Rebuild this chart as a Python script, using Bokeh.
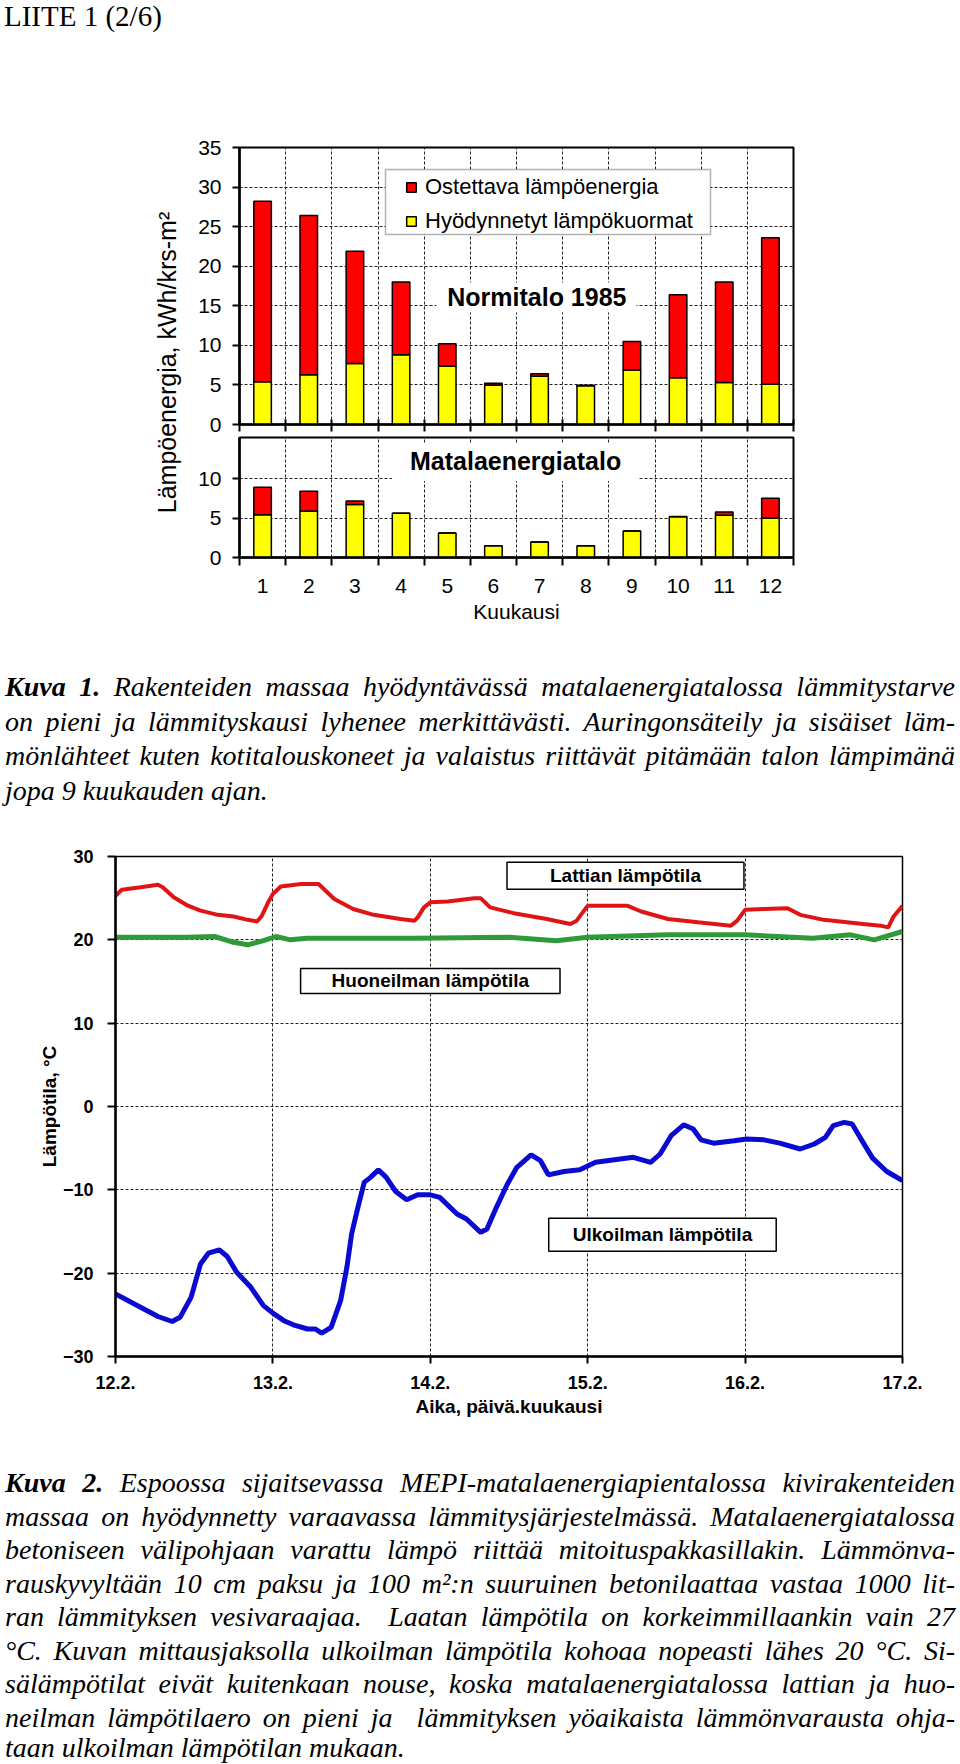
from bokeh.plotting import figure
from bokeh.models import (Range1d, FixedTicker, Label, Legend, LegendItem,
                          BoxAnnotation, Div, ColumnDataSource)
from bokeh.layouts import column, row
from bokeh.embed import file_html
from bokeh.resources import INLINE

# ---------------- data ----------------
months = [1, 2, 3, 4, 5, 6, 7, 8, 9, 10, 11, 12]
# Normitalo 1985
normi_used = [5.4, 6.3, 7.7, 8.8, 7.4, 5.0, 6.1, 4.9, 6.9, 5.9, 5.3, 5.1]
normi_bought = [22.8, 20.1, 14.2, 9.2, 2.8, 0.2, 0.3, 0.05, 3.6, 10.5, 12.7, 18.5]
# Matalaenergiatalo
low_used = [5.4, 5.9, 6.7, 5.6, 3.1, 1.5, 1.95, 1.5, 3.35, 5.15, 5.35, 5.0]
low_bought = [3.5, 2.5, 0.45, 0.0, 0.0, 0.0, 0.0, 0.0, 0.0, 0.05, 0.4, 2.5]
top_ticks = [0, 5, 10, 15, 20, 25, 30, 35]
low_ticks = [0, 5, 10]

# temperatures, time in days from 12.2.
day_ticks = [0, 1, 2, 3, 4, 5]
day_labels = ["12.2.", "13.2.", "14.2.", "15.2.", "16.2.", "17.2."]
temp_ticks = [-30, -20, -10, 0, 10, 20, 30]

floor_t = [0, 0.04, 0.16, 0.27, 0.30, 0.37, 0.46, 0.54, 0.65, 0.75, 0.84, 0.90, 0.93,
           0.97, 1.0, 1.05, 1.18, 1.29, 1.39, 1.51, 1.64, 1.81, 1.90, 1.92, 1.96, 2.0,
           2.11, 2.28, 2.32, 2.38, 2.53, 2.74, 2.89, 2.93, 3.0, 3.08, 3.25, 3.34, 3.51,
           3.70, 3.91, 3.95, 4.0, 4.12, 4.27, 4.35, 4.50, 4.75, 4.86, 4.91, 4.94, 5.0]
floor_v = [25.3, 26.0, 26.3, 26.6, 26.3, 25.1, 24.1, 23.5, 23.0, 22.8, 22.4, 22.2, 22.9,
           24.5, 25.5, 26.4, 26.7, 26.7, 24.9, 23.7, 23.0, 22.5, 22.3, 22.7, 23.9, 24.5,
           24.6, 25.0, 25.0, 23.9, 23.2, 22.5, 21.9, 22.3, 24.1, 24.1, 24.1, 23.4, 22.5,
           22.1, 21.7, 22.3, 23.6, 23.7, 23.8, 23.0, 22.4, 21.9, 21.7, 21.5, 22.7, 24.1]

room_t = [0, 0.46, 0.63, 0.75, 0.84, 0.94, 1.02, 1.11, 1.22, 1.90, 2.5, 2.80, 3.0,
          3.51, 4.0, 4.43, 4.67, 4.82, 5.0]
room_v = [20.3, 20.3, 20.4, 19.7, 19.4, 19.9, 20.4, 20.0, 20.2, 20.2, 20.3, 19.9, 20.3,
          20.6, 20.6, 20.2, 20.6, 20.0, 21.0]

out_t = [0, 0.18, 0.27, 0.36, 0.41, 0.48, 0.54, 0.59, 0.66, 0.71, 0.77, 0.86, 0.94, 1.0,
         1.07, 1.13, 1.22, 1.27, 1.31, 1.37, 1.43, 1.47, 1.50, 1.54, 1.58, 1.62, 1.67,
         1.72, 1.78, 1.85, 1.92, 2.0, 2.06, 2.17, 2.23, 2.32, 2.36, 2.42, 2.49, 2.55,
         2.64, 2.70, 2.75, 2.85, 2.95, 3.05, 3.17, 3.29, 3.40, 3.46, 3.53, 3.61, 3.67,
         3.72, 3.80, 3.93, 4.01, 4.12, 4.22, 4.35, 4.44, 4.51, 4.56, 4.63, 4.68, 4.73,
         4.81, 4.90, 5.0]
out_v = [-22.5, -24.3, -25.2, -25.8, -25.3, -22.9, -18.9, -17.6, -17.2, -18.0, -19.9,
         -21.7, -23.9, -24.8, -25.7, -26.2, -26.7, -26.7, -27.2, -26.5, -23.3, -19.3,
         -15.3, -12.1, -9.1, -8.5, -7.6, -8.5, -10.2, -11.2, -10.6, -10.6, -10.9, -12.9,
         -13.5, -15.1, -14.7, -12.1, -9.3, -7.3, -5.8, -6.5, -8.2, -7.8, -7.6, -6.7, -6.4,
         -6.1, -6.7, -5.7, -3.5, -2.2, -2.7, -4.0, -4.4, -4.1, -3.9, -4.0, -4.4, -5.1,
         -4.5, -3.7, -2.3, -1.9, -2.1, -3.7, -6.2, -7.8, -8.9]

# ---------------- styling helpers ----------------
SANS = "Liberation Sans"
RED = "#ff0000"
YELLOW = "#ffff00"
edges_all = [m - 0.5 for m in months] + [12.5]
edges_inner = [m + 0.5 for m in months[:-1]]


def base_fig(w, h, bl, br, bt, bb, xr, yr):
    p = figure(width=w, height=h, x_range=xr, y_range=yr, toolbar_location=None,
               output_backend="svg", min_border_left=bl, min_border_right=br,
               min_border_top=bt, min_border_bottom=bb, margin=0)
    p.outline_line_color = "black"
    p.outline_line_width = 2
    p.background_fill_color = "white"
    p.border_fill_color = "white"
    for ax in (p.xaxis[0], p.yaxis[0]):
        ax.axis_line_width = 2.5
        ax.axis_line_color = "black"
        ax.major_tick_line_width = 2
        ax.major_tick_line_color = "black"
        ax.minor_tick_line_width = 2
        ax.minor_tick_line_color = "black"
        ax.major_label_text_color = "black"
        ax.major_label_text_font = SANS
        ax.axis_label_text_font = SANS
        ax.axis_label_text_color = "black"
    p.grid.grid_line_color = "#222222"
    p.grid.grid_line_dash = "3 2"
    p.grid.grid_line_width = 1
    return p


def style_bar_left(p, ticks):
    ax = p.yaxis[0]
    ax.ticker = FixedTicker(ticks=ticks, minor_ticks=[])
    ax.major_tick_in = 0
    ax.major_tick_out = 7
    ax.major_label_standoff = 11
    ax.major_label_text_font_size = "21px"
    p.ygrid.ticker = FixedTicker(ticks=ticks)
    p.xgrid.ticker = FixedTicker(ticks=edges_inner)


# ---------------- figure A : Normitalo 1985 ----------------
srcA = ColumnDataSource(dict(month=months, used=normi_used, bought=normi_bought))
pA = base_fig(640, 316, 49, 37, 27, 12, Range1d(0.5, 12.5), Range1d(0, 35))
style_bar_left(pA, top_ticks)
xa = pA.xaxis[0]
xa.ticker = FixedTicker(ticks=[], minor_ticks=edges_all)
xa.minor_tick_in = 5
xa.minor_tick_out = 7
rA = pA.vbar_stack(["used", "bought"], x="month", width=0.38, color=[YELLOW, RED],
                   line_color="black", line_width=1.5, source=srcA)

pA.add_layout(BoxAnnotation(left=146, right=471, top=255, bottom=190,
                            left_units="screen", right_units="screen",
                            top_units="screen", bottom_units="screen",
                            fill_color="white", fill_alpha=1.0,
                            line_color="black", line_width=1.5))
legA = Legend(items=[LegendItem(label="Ostettava lämpöenergia", renderers=[rA[1]]),
                     LegendItem(label="Hyödynnetyt lämpökuormat", renderers=[rA[0]])],
              location=(166, 190), padding=0, spacing=8, glyph_width=12, glyph_height=12,
              label_standoff=8, label_text_font=SANS, label_text_font_size="22px",
              label_text_color="black", border_line_alpha=0, background_fill_alpha=0)
pA.add_layout(legA)
pA.add_layout(Label(x=6.93, y=16.05, text="Normitalo 1985", text_align="center",
                    text_baseline="middle", text_font=SANS, text_font_style="bold",
                    text_font_size="25px", text_color="black",
                    background_fill_color="white",
                    padding=dict(left=11, right=10, top=1, bottom=1)))

# ---------------- figure B : Matalaenergiatalo ----------------
srcB = ColumnDataSource(dict(month=months, used=low_used, bought=low_bought))
pB = base_fig(640, 204, 49, 37, 1, 83, Range1d(0.5, 12.5), Range1d(0, 15.2))
style_bar_left(pB, low_ticks)
xb = pB.xaxis[0]
xb.ticker = FixedTicker(ticks=months, minor_ticks=edges_all)
xb.major_tick_in = 0
xb.major_tick_out = 0
xb.minor_tick_in = 0
xb.minor_tick_out = 8
xb.major_label_standoff = 13
xb.major_label_text_font_size = "21px"
xb.axis_label = "Kuukausi"
xb.axis_label_text_font_style = "normal"
xb.axis_label_text_font_size = "21px"
xb.axis_label_standoff = 4
pB.vbar_stack(["used", "bought"], x="month", width=0.38, color=[YELLOW, RED],
              line_color="black", line_width=1.5, source=srcB)
pB.add_layout(Label(x=6.48, y=12.03, text="Matalaenergiatalo", text_align="center",
                    text_baseline="middle", text_font=SANS, text_font_style="bold",
                    text_font_size="25px", text_color="black",
                    background_fill_color="white",
                    padding=dict(left=18, right=18, top=3, bottom=6)))

# ---------------- figure C : shared y label ----------------
pC = figure(width=190, height=520, x_range=Range1d(0, 1), y_range=Range1d(0, 1),
            x_axis_type=None, y_axis_type=None, toolbar_location=None,
            output_backend="svg", min_border=0, margin=0)
pC.outline_line_color = None
pC.grid.visible = False
pC.add_layout(Label(x=166, y=278, x_units="screen", y_units="screen",
                    text="Lämpöenergia, kWh/krs-m²", angle=90, angle_units="deg",
                    text_align="center", text_baseline="middle", text_font=SANS,
                    text_font_size="25px", text_color="black"))

# ---------------- figure D : temperatures ----------------
pD = base_fig(960, 600, 115, 58, 16, 84, Range1d(0, 5), Range1d(-30, 30))
pD.outline_line_width = 1.5
xd, yd = pD.xaxis[0], pD.yaxis[0]
xd.ticker = FixedTicker(ticks=day_ticks, minor_ticks=[])
xd.major_label_overrides = {t: lab for t, lab in zip(day_ticks, day_labels)}
xd.major_tick_in = 0
xd.major_tick_out = 7
xd.major_label_standoff = 12
xd.major_label_text_font_size = "18px"
xd.major_label_text_font_style = "bold"
xd.axis_label = "Aika, päivä.kuukausi"
xd.axis_label_text_font_size = "19px"
xd.axis_label_text_font_style = "bold"
xd.axis_label_standoff = 4
yd.ticker = FixedTicker(ticks=temp_ticks, minor_ticks=[])
yd.major_tick_in = 0
yd.major_tick_out = 8
yd.major_label_standoff = 14
yd.major_label_text_font_size = "18px"
yd.major_label_text_font_style = "bold"
yd.axis_label = "Lämpötila, °C"
yd.axis_label_text_font_size = "19px"
yd.axis_label_text_font_style = "bold"
yd.axis_label_standoff = 0
pD.line(floor_t, floor_v, line_color="#e01414", line_width=4)
pD.line(room_t, room_v, line_color="#2f9a3a", line_width=5)
pD.line(out_t, out_v, line_color="#0a0ad0", line_width=5)


def box_label(x, y, text, ph, pv):
    return Label(x=x, y=y, text=text, text_align="center", text_baseline="middle",
                 text_font=SANS, text_font_style="bold", text_font_size="19px",
                 text_color="black", background_fill_color="white",
                 border_line_color="black", border_line_width=1.5,
                 padding=dict(left=ph, right=ph, top=pv, bottom=pv))


pD.add_layout(box_label(3.24, 27.7, "Lattian lämpötila", 43, 3))
pD.add_layout(box_label(2.0, 15.07, "Huoneilman lämpötila", 31, 2))
pD.add_layout(box_label(3.475, -15.4, "Ulkoilman lämpötila", 24, 6))

# ---------------- text blocks ----------------
SERIF = "font-family:'Liberation Serif';color:#000;"


def para(lines, lh, pad_top, last_lh=None):
    out = []
    for i, ln in enumerate(lines):
        last = i == len(lines) - 1
        al = "left" if last else "justify"
        extra = f"line-height:{last_lh}px;" if (last and last_lh) else ""
        out.append(f'<div style="text-align:{al};text-align-last:{al};{extra}">{ln}</div>')
    return (f'<div style="{SERIF}font-style:italic;font-size:28px;line-height:{lh}px;'
            f'padding-top:{pad_top}px;margin-left:5px;width:950px;">'
            + "".join(out) + "</div>")


cap1_lines = [
    "<b>Kuva 1.</b> Rakenteiden massaa hyödyntävässä matalaenergiatalossa lämmitystarve",
    "on pieni ja lämmityskausi lyhenee merkittävästi. Auringonsäteily ja sisäiset läm-",
    "mönlähteet kuten kotitalouskoneet ja valaistus riittävät pitämään talon lämpimänä",
    "jopa 9 kuukauden ajan.",
]
cap2_lines = [
    "<b>Kuva 2.</b> Espoossa sijaitsevassa MEPI-matalaenergiapientalossa kivirakenteiden",
    "massaa on hyödynnetty varaavassa lämmitysjärjestelmässä. Matalaenergiatalossa",
    "betoniseen välipohjaan varattu lämpö riittää mitoituspakkasillakin. Lämmönva-",
    "rauskyvyltään 10 cm paksu ja 100 m²:n suuruinen betonilaattaa vastaa 1000 lit-",
    "ran lämmityksen vesivaraajaa. &nbsp;Laatan lämpötila on korkeimmillaankin vain 27",
    "°C. Kuvan mittausjaksolla ulkoilman lämpötila kohoaa nopeasti lähes 20 °C. Si-",
    "sälämpötilat eivät kuitenkaan nouse, koska matalaenergiatalossa lattian ja huo-",
    "neilman lämpötilaero on pieni ja &nbsp;lämmityksen yöaikaista lämmönvarausta ohja-",
    "taan ulkoilman lämpötilan mukaan.",
]

title = Div(text=f'<div style="{SERIF}font-size:29px;line-height:32px;padding-left:4px;'
                 f'white-space:nowrap;">LIITE 1 (2/6)</div>',
            width=960, height=120, margin=0, styles={"overflow": "visible"})
cap1 = Div(text=para(cap1_lines, 34.7, 30), width=960, height=200, margin=0,
           styles={"overflow": "visible"})
cap2 = Div(text=para(cap2_lines, 33.5, 26, last_lh=27), width=960, height=322, margin=0,
           styles={"overflow": "visible"})

layout = column(title, row(pC, column(pA, pB)), cap1, pD, cap2)

with open("out.html", "w") as f:
    f.write(file_html(layout, INLINE))
